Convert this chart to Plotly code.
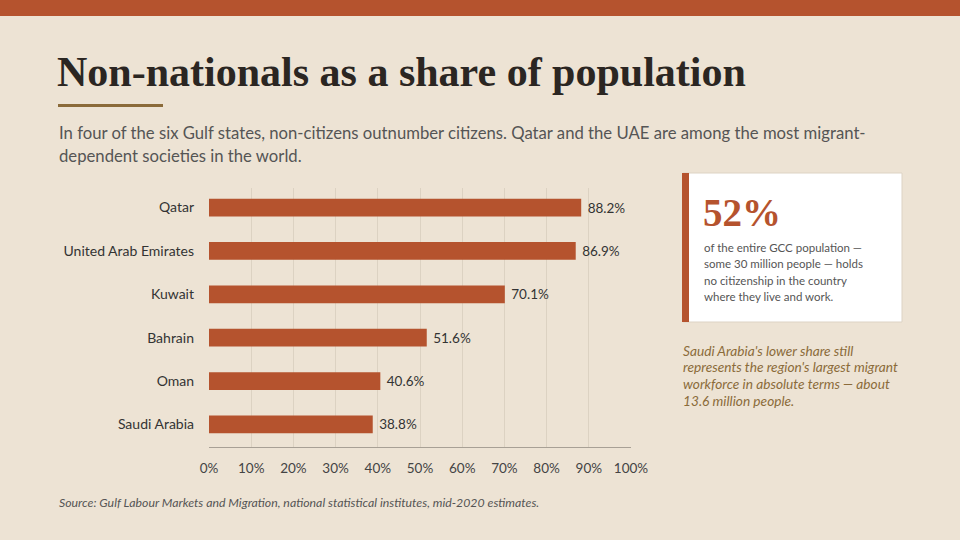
import plotly.graph_objects as go

countries = ["Qatar", "United Arab Emirates", "Kuwait", "Bahrain", "Oman", "Saudi Arabia"]
shares = [88.2, 86.9, 70.1, 51.6, 40.6, 38.8]
tick_vals = [0, 10, 20, 30, 40, 50, 60, 70, 80, 90, 100]
tick_text = [f"{v}%" for v in tick_vals]

W, H = 960, 540
bg = "#EDE3D4"
rust = "#B5532E"
sans = "Lato, 'Open Sans', sans-serif"
serif = "'Liberation Serif', 'DejaVu Serif', serif"


def px(x):
    return x / W


def py(y):
    return 1 - y / H


fig = go.Figure(go.Bar(
    y=countries, x=shares, orientation="h",
    marker=dict(color=rust, line=dict(width=0)),
    text=[f"\u00a0{v:.1f}%" for v in shares], textposition="outside",
    textfont=dict(family=sans, size=13.5, color="#333333"),
    cliponaxis=False, width=0.41,
))

fig.update_layout(
    width=W, height=H, paper_bgcolor=bg, plot_bgcolor=bg,
    margin=dict(l=0, r=0, t=0, b=0, autoexpand=False), showlegend=False,
    xaxis=dict(domain=[px(209), px(631)], range=[0, 100], tickvals=tick_vals,
               ticktext=tick_text, showgrid=True, gridcolor="#DCD2C2", gridwidth=1,
               zeroline=False, showline=True, linecolor="#A8A095", linewidth=1,
               ticks="", ticklabelstandoff=9, automargin=False,
               tickfont=dict(family=sans, size=13.5, color="#444444")),
    yaxis=dict(domain=[py(447), py(188)], categoryorder="array",
               categoryarray=countries[::-1], range=[-0.52, 5.45],
               showgrid=False, zeroline=False, showline=False, ticks="",
               ticklabelstandoff=14, automargin=False,
               tickfont=dict(family=sans, size=14, color="#333333")),
)

shapes = [
    dict(type="rect", xref="paper", yref="paper", x0=0, x1=1, y0=py(16), y1=1,
         fillcolor=rust, line=dict(width=0)),
    dict(type="rect", xref="paper", yref="paper", x0=px(58), x1=px(163),
         y0=py(107), y1=py(104), fillcolor="#8B6B3A", line=dict(width=0)),
    dict(type="rect", xref="paper", yref="paper", x0=px(683), x1=px(902),
         y0=py(322), y1=py(173), fillcolor="white", line=dict(color="#DDD3C4", width=1)),
    dict(type="rect", xref="paper", yref="paper", x0=px(682), x1=px(689),
         y0=py(322), y1=py(173), fillcolor=rust, line=dict(width=0)),
]
fig.update_layout(shapes=shapes)


def note(x, y, text, size, color, family=sans, anchor="left", yanchor="middle"):
    fig.add_annotation(xref="paper", yref="paper", x=px(x), y=py(y), text=text,
                       showarrow=False, xanchor=anchor, yanchor=yanchor, align="left",
                       font=dict(family=family, size=size, color=color))


note(55, 72, "<b>Non-nationals as a share of population</b>", 42, "#2B2622", serif)
note(57, 133, "In four of the six Gulf states, non-citizens outnumber citizens. Qatar and the UAE are among the most migrant-",
     16.7, "#555555")
note(57, 156, "dependent societies in the world.", 16.7, "#555555")

note(701, 213, "<b>52%</b>", 39, rust, serif)
card_lines = ["of the entire GCC population —", "some 30 million people — holds",
              "no citizenship in the country", "where they live and work."]
for i, line in enumerate(card_lines):
    note(702, 247 + i * 16.6, line, 11.5, "#555555")

side_lines = ["Saudi Arabia's lower share still", "represents the region's largest migrant",
              "workforce in absolute terms — about", "13.6 million people."]
for i, line in enumerate(side_lines):
    note(681, 350 + i * 16.8, f"<i>{line}</i>", 13.7, "#8B6B3A")

note(57, 502, "<i>Source: Gulf Labour Markets and Migration, national statistical institutes, mid-2020 estimates.</i>",
     12.3, "#555555")

fig.write_html("out.html",
               config=dict(displayModeBar=False, responsive=False),
               post_script="document.body.style.margin='0';document.body.style.overflow='hidden';")
